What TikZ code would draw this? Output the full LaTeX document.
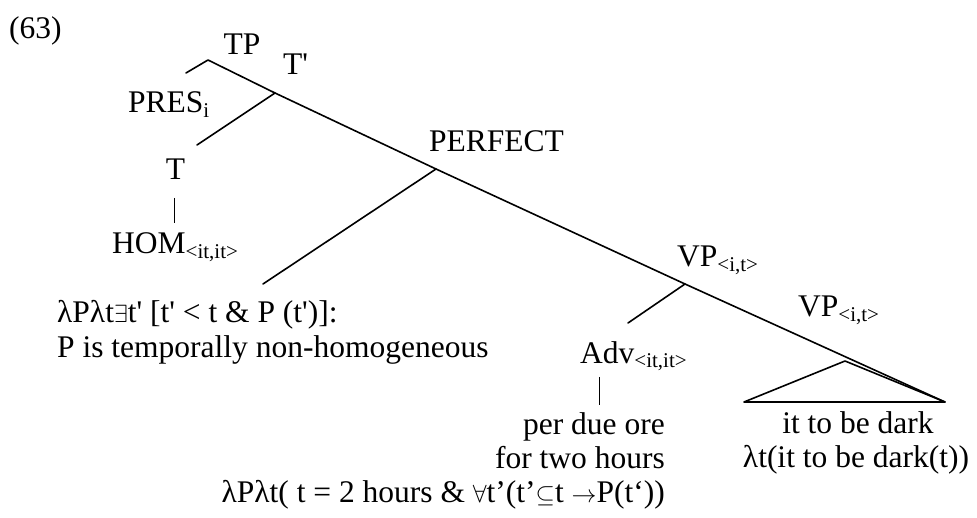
\documentclass[tikz,border=0pt]{standalone}
\usepackage{fontspec}
\setmainfont{Liberation Serif}[Ligatures=TeXOff]
\newcommand\sbs[1]{\raisebox{-4.5pt}{\fontsize{21}{21}\selectfont #1}}
\begin{document}
\begin{tikzpicture}[x=1pt,y=-1pt,
  lbl/.style={inner sep=0pt, font=\fontsize{31.5}{36}\selectfont},
  branch/.style={line width=1.6pt, line cap=round, line join=round},
  bar/.style={line width=0.8pt}]
\useasboundingbox (0,0) rectangle (977,518);

% labels
\node[lbl, anchor=base west] (num) at (9,39) {(63)};
\node[lbl, anchor=base] (tp) at (242,55) {TP};
\node[lbl, anchor=base west] (tbar) at (283,75) {T'};
\node[lbl, anchor=base west] (pres) at (128,113) {PRES\sbs{i}};
\node[lbl, anchor=base] (t) at (175.5,180) {T};
\node[lbl, anchor=base west] (hom) at (112,254) {HOM\sbs{<it,it>}};
\node[lbl, anchor=base west] (perf) at (429,152) {PERFECT};
\node[lbl, anchor=base west] (perfA) at (57,323) {λPλt$\exists$t' [t' < t \& P (t')]:};
\node[lbl, anchor=base west] (perfB) at (57,358) {P is temporally non-homogeneous};
\node[lbl, anchor=base west] (vp1) at (677,267) {VP\sbs{<i,t>}};
\node[lbl, anchor=base west] (adv) at (580,363) {Adv\sbs{<it,it>}};
\node[lbl, anchor=base east] (advA) at (665,434) {per due ore};
\node[lbl, anchor=base east] (advB) at (665,468) {for two hours};
\node[lbl, anchor=base east] (advC) at (665,502) {λPλt( t = 2 hours \& $\forall$t’(t’$\subseteq$t $\to$P(t‘))};
\node[lbl, anchor=base west] (vp2) at (798,317) {VP\sbs{<i,t>}};
\node[lbl, anchor=base] (vpA) at (858,433) {it to be dark};
\node[lbl, anchor=base] (vpB) at (856,467) {λt(it to be dark(t))};

% tree points
\coordinate (nTP) at (208,60);
\coordinate (nPRES) at (186,73);
\coordinate (nTb) at (275,93);
\coordinate (nT) at (197,145);
\coordinate (nPF) at (436,169);
\coordinate (nPFl) at (263,284);
\coordinate (nVP1) at (685,284);
\coordinate (nADV) at (628,323);
\coordinate (nVP2) at (845,361);
\coordinate (triL) at (744,402);
\coordinate (triR) at (945,402);
\coordinate (tbarTop) at (174,198);
\coordinate (tbarBot) at (174,223);
\coordinate (abarTop) at (599,377);
\coordinate (abarBot) at (599,405);

% branches
\draw[branch] (nPRES) -- (nTP) -- (nTb) -- (nPF) -- (nVP1) -- (triR);
\draw[branch] (nTb) -- (nT);
\draw[branch] (nPF) -- (nPFl);
\draw[branch] (nVP1) -- (nADV);
\draw[branch] (nVP2) -- (triL) -- (triR) -- cycle;
\draw[bar] (tbarTop) -- (tbarBot);
\draw[bar] (abarTop) -- (abarBot);
\end{tikzpicture}
\end{document}
